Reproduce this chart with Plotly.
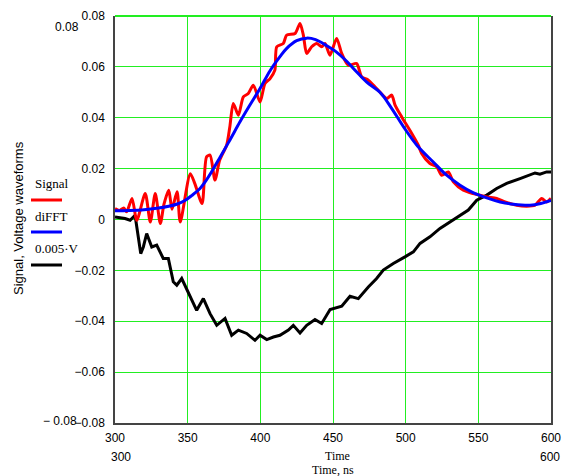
import plotly.graph_objects as go

# ---------------- data ----------------
signal_t = [300, 303, 306, 308, 311.7, 315, 320.8, 324.3, 327.7, 331.2, 333.7, 337, 339.2, 342.7,
            344.9, 351.8, 355, 359.9, 363, 365.4, 368.8, 372, 376.8, 379, 381.4, 384.9, 388.3,
            391.7, 395.2, 399.8, 403.2, 406.7, 410, 411.3, 415.8, 418.1, 423.9, 427.3, 429.6,
            431.9, 435.3, 438.8, 442.2, 444.5, 447.9, 452.5, 456, 460.5, 466.3, 469.7, 474.3,
            480, 487, 490.4, 492.7, 497.3, 504.2, 508.7, 511, 516.7, 521.4, 524.8, 529.3, 532.8,
            539.7, 546.5, 555.8, 562.6, 568.4, 576.4, 583.3, 589, 593.6, 597, 600]
signal_v = [0.0043, 0.0035, 0.0045, 0.0030, 0.0083, -0.0003, 0.0102, -0.0010, 0.0102, -0.0016,
            0.0060, 0.0115, 0.0040, 0.0109, -0.0010, 0.0180, 0.0140, 0.0063, 0.0246, 0.0253,
            0.0155, 0.0233, 0.0292, 0.0364, 0.0456, 0.0410, 0.0482, 0.0495, 0.0528, 0.0462,
            0.0535, 0.0554, 0.0587, 0.0679, 0.0692, 0.0725, 0.0731, 0.0771, 0.0725, 0.0653,
            0.0679, 0.0692, 0.0679, 0.0692, 0.0646, 0.0712, 0.0653, 0.0607, 0.0613, 0.0561,
            0.0548, 0.0515, 0.0476, 0.0489, 0.0450, 0.0403, 0.0338, 0.0292, 0.0260, 0.0220,
            0.0207, 0.0174, 0.0187, 0.0148, 0.0115, 0.0102, 0.0089, 0.0083, 0.0069, 0.0056,
            0.0052, 0.0056, 0.0083, 0.0069, 0.0083]

difft_t = [300, 310, 320, 330, 337, 342.4, 348.4, 353, 358.5, 362, 366.7, 372.3, 379, 386, 392,
           399.8, 406.7, 413.5, 418, 425, 432, 438, 445.7, 452, 459.4, 466, 473.2, 482.3, 490,
           498.8, 508, 519, 528, 537.4, 546, 555.8, 565, 574.1, 585.6, 593, 600]
difft_v = [0.0034, 0.0035, 0.0038, 0.0045, 0.0052, 0.0060, 0.0076, 0.0095, 0.0122, 0.0148,
           0.0190, 0.0245, 0.0312, 0.0384, 0.0442, 0.0515, 0.0585, 0.0640, 0.0672, 0.0703,
           0.0713, 0.0707, 0.0683, 0.0660, 0.0622, 0.0582, 0.0540, 0.0500, 0.0440, 0.0362,
           0.0290, 0.0226, 0.0175, 0.0135, 0.0107, 0.0085, 0.0069, 0.0060, 0.0056, 0.0063,
           0.0075]

volt_t = [300, 306.9, 310.4, 313.8, 316, 317.7, 319.5, 321.8, 325.3, 328.7, 333.2, 336.7, 340.1,
          342.5, 345.9, 350.4, 356.2, 360.8, 365.4, 370, 375.7, 380.3, 384.9, 390.6, 396.3,
          399.8, 404.4, 409, 413.5, 419.3, 422.7, 427.3, 431.9, 437.6, 442.2, 448, 456, 461.7,
          467.4, 474.3, 480, 484.6, 491.5, 499.5, 505.3, 509.9, 516.7, 523.6, 530.5, 537.4,
          543.1, 548.9, 555.8, 562.6, 569.5, 578.7, 584.4, 589, 592.4, 597, 600]
volt_v = [0.0010, 0.0004, -0.0003, 0.0017, -0.0068, -0.0134, -0.0108, -0.0055, -0.0108, -0.0101,
          -0.0153, -0.0153, -0.0245, -0.0258, -0.0232, -0.0285, -0.0357, -0.0311, -0.0370,
          -0.0416, -0.0389, -0.0455, -0.0435, -0.0448, -0.0475, -0.0455, -0.0472, -0.0462,
          -0.0455, -0.0435, -0.0416, -0.0446, -0.0416, -0.0393, -0.0409, -0.0354, -0.0341,
          -0.0302, -0.0311, -0.0265, -0.0232, -0.0199, -0.0173, -0.0147, -0.0127, -0.0094,
          -0.0068, -0.0035, -0.0009, 0.0017, 0.0037, 0.0076, 0.0096, 0.0122, 0.0142, 0.0161,
          0.0174, 0.0183, 0.0178, 0.0187, 0.0187]

x_ticks = [300, 350, 400, 450, 500, 550, 600]
y_ticks = [-0.08, -0.06, -0.04, -0.02, 0, 0.02, 0.04, 0.06, 0.08]
y_ticktext = ["\u22120.08", "\u22120.06", "\u22120.04", "\u22120.02", "0", "0.02", "0.04", "0.06", "0.08"]

legend_names = ["Signal", "diFFT", "0.005\u00b7V"]
legend_colors = ["#ff0000", "#0000ff", "#000000"]

# ---------------- figure ----------------
GRID = "#22ee22"
SANS = "Liberation Sans, Arial, sans-serif"
SERIF = "Liberation Serif, Times New Roman, serif"

W, H = 563, 476
L, R, T, B = 115, 12, 16, 53
pw, ph = W - L - R, H - T - B

def px(xp):
    return (xp - L) / pw

def py(yp):
    return 1 - (yp - T) / ph

fig = go.Figure()
fig.add_trace(go.Scatter(x=volt_t, y=volt_v, mode="lines", name=legend_names[2],
                         line=dict(color=legend_colors[2], width=3)))
fig.add_trace(go.Scatter(x=signal_t, y=signal_v, mode="lines", name=legend_names[0],
                         line=dict(color=legend_colors[0], width=3, shape="spline", smoothing=0.7)))
fig.add_trace(go.Scatter(x=difft_t, y=difft_v, mode="lines", name=legend_names[1],
                         line=dict(color=legend_colors[1], width=3, shape="spline", smoothing=1)))

fig.update_layout(
    width=W, height=H, autosize=False,
    margin=dict(l=L, r=R, t=T, b=B, pad=0, autoexpand=False),
    paper_bgcolor="white", plot_bgcolor="white",
    showlegend=False,
    font=dict(family=SANS, size=12, color="#000"),
    xaxis=dict(range=[300, 600], tickvals=x_ticks, showgrid=True, gridcolor=GRID, gridwidth=1,
               zeroline=False, showline=True, linecolor="#444", linewidth=1.5, mirror=False,
               ticks="", ticklabelstandoff=3, tickfont=dict(family=SANS, size=12),
               automargin=False),
    yaxis=dict(range=[-0.08, 0.08], tickvals=y_ticks, ticktext=y_ticktext, showgrid=True,
               gridcolor=GRID, gridwidth=1, zeroline=False, showline=True, linecolor="#444",
               linewidth=1.5, mirror=True, ticks="", ticklabelstandoff=6,
               tickfont=dict(family=SANS, size=12), automargin=False),
)

ann = []
ann.append(dict(text="Signal, Voltage waveforms", xref="paper", yref="paper", x=px(18), y=py(218),
                textangle=-90, showarrow=False, font=dict(family=SANS, size=13),
                xanchor="center", yanchor="middle"))
ann.append(dict(text="0.08", xref="paper", yref="paper", x=px(67), y=py(27), showarrow=False,
                font=dict(family=SANS, size=12), xanchor="center", yanchor="middle"))
ann.append(dict(text="\u2212 0.08", xref="paper", yref="paper", x=px(79), y=py(421), showarrow=False,
                font=dict(family=SANS, size=12), xanchor="right", yanchor="middle"))
ann.append(dict(text="300", xref="paper", yref="paper", x=px(121), y=py(457), showarrow=False,
                font=dict(family=SANS, size=12), xanchor="center", yanchor="middle"))
ann.append(dict(text="600", xref="paper", yref="paper", x=px(562), y=py(457), showarrow=False,
                font=dict(family=SANS, size=12), xanchor="right", yanchor="middle"))
ann.append(dict(text="Time", xref="paper", yref="paper", x=px(337), y=py(456), showarrow=False,
                font=dict(family=SERIF, size=12), xanchor="center", yanchor="middle"))
ann.append(dict(text="Time, ns", xref="paper", yref="paper", x=px(333), y=py(470), showarrow=False,
                font=dict(family=SERIF, size=12), xanchor="center", yanchor="middle"))

shapes = [dict(type="line", xref="paper", yref="paper", x0=0, x1=1, y0=1, y1=1,
               line=dict(color=GRID, width=2))]
leg_text_y = [183, 216, 248]
leg_line_y = [200, 232, 265]
for name, col, ty, ly in zip(legend_names, legend_colors, leg_text_y, leg_line_y):
    ann.append(dict(text=name, xref="paper", yref="paper", x=px(33), y=py(ty), showarrow=False,
                    font=dict(family=SERIF, size=13), xanchor="left", yanchor="middle"))
    shapes.append(dict(type="line", xref="paper", yref="paper", x0=px(31), x1=px(62),
                       y0=py(ly), y1=py(ly), line=dict(color=col, width=3)))

fig.update_layout(annotations=ann, shapes=shapes)
fig.write_html("out.html", config={"displayModeBar": False},
               post_script="document.documentElement.style.margin='0';"
                           "document.documentElement.style.overflow='hidden';"
                           "document.body.style.margin='0';document.body.style.overflow='hidden';")
